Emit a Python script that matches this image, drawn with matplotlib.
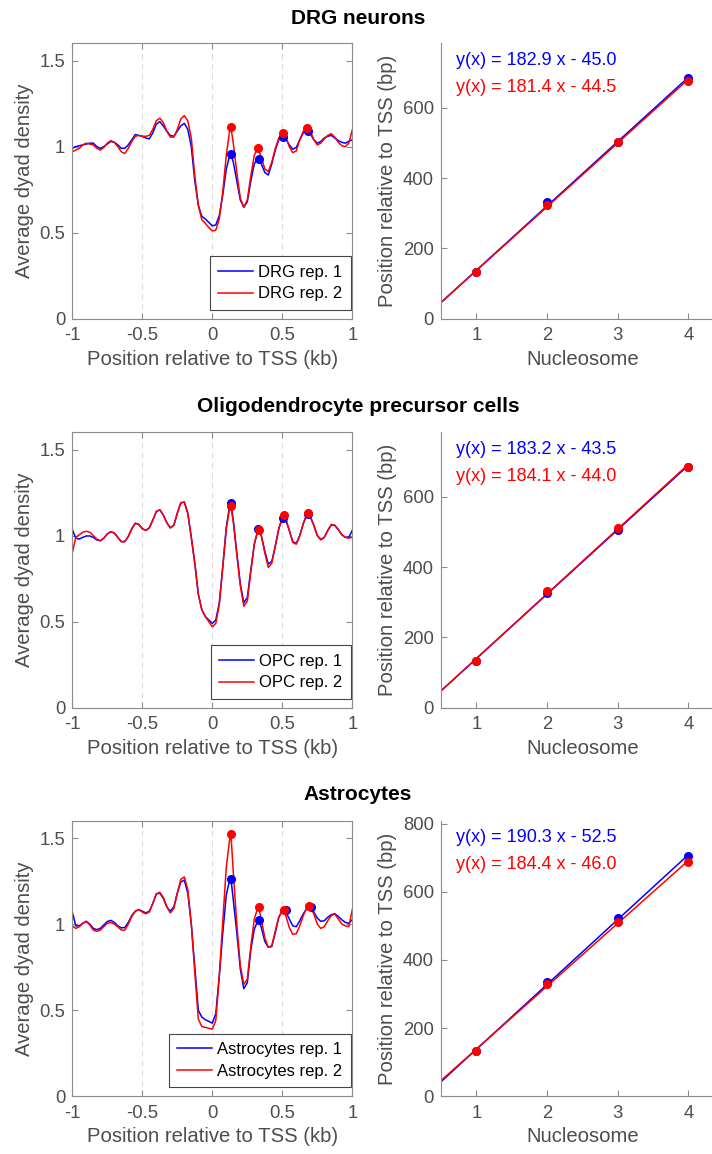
import numpy as np
import matplotlib.pyplot as plt

plt.rcParams['font.family'] = ['Liberation Sans', 'DejaVu Sans']
plt.rcParams['axes.unicode_minus'] = False

# position grid of the dyad profiles (kb)
position_kb = np.linspace(-1, 1, 81)
nucleosome = [1, 2, 3, 4]

# ---- DRG neurons ----
drg_rep1 = [0.99, 1.00, 1.005, 1.01, 1.015, 1.02, 1.02, 1.00, 0.99, 1.00,
            1.015, 1.03, 1.025, 1.01, 0.99, 0.99, 1.01, 1.04, 1.07, 1.065,
            1.06, 1.05, 1.045, 1.08, 1.13, 1.145, 1.12, 1.09, 1.065, 1.06,
            1.09, 1.12, 1.135, 1.10, 1.00, 0.80, 0.66, 0.595, 0.58, 0.56,
            0.54, 0.545, 0.60, 0.72, 0.87, 0.95, 0.91, 0.80, 0.69, 0.648,
            0.68, 0.80, 0.90, 0.93, 0.90, 0.85, 0.835, 0.90, 0.98, 1.04,
            1.058, 1.045, 1.01, 0.985, 0.995, 1.04, 1.08, 1.093, 1.075, 1.04,
            1.02, 1.03, 1.05, 1.06, 1.065, 1.05, 1.035, 1.025, 1.02, 1.03,
            1.04]
drg_rep2 = [0.97, 0.98, 0.99, 1.01, 1.02, 1.015, 1.01, 0.99, 0.98, 0.995,
            1.02, 1.035, 1.025, 1.00, 0.97, 0.96, 0.99, 1.03, 1.06, 1.065,
            1.06, 1.06, 1.065, 1.10, 1.15, 1.165, 1.14, 1.09, 1.055, 1.055,
            1.10, 1.16, 1.18, 1.15, 1.05, 0.83, 0.66, 0.575, 0.555, 0.53,
            0.51, 0.515, 0.58, 0.74, 0.95, 1.10, 1.02, 0.85, 0.70, 0.648,
            0.69, 0.83, 0.95, 0.99, 0.94, 0.87, 0.855, 0.91, 0.99, 1.05,
            1.077, 1.055, 1.00, 0.965, 0.975, 1.04, 1.09, 1.11, 1.09, 1.04,
            1.01, 1.02, 1.045, 1.065, 1.075, 1.055, 1.025, 1.005, 1.00, 1.02,
            1.097]
drg_peak_bp_rep1 = [132, 331, 502, 683]
drg_peak_bp_rep2 = [132, 324, 502, 676]
drg_peak_val_rep1 = [0.958, 0.929, 1.058, 1.093]
drg_peak_val_rep2 = [1.116, 0.991, 1.077, 1.110]
drg_fit_rep1 = (182.9, -45.0)
drg_fit_rep2 = (181.4, -44.5)

# ---- Oligodendrocyte precursor cells ----
opc_rep1 = [1.035, 0.985, 0.98, 0.99, 0.998, 0.998, 0.99, 0.975, 0.97, 0.985,
            1.01, 1.023, 1.015, 0.99, 0.965, 0.965, 0.995, 1.04, 1.072, 1.065,
            1.04, 1.03, 1.045, 1.09, 1.14, 1.15, 1.12, 1.075, 1.045, 1.06,
            1.13, 1.19, 1.195, 1.13, 0.99, 0.84, 0.66, 0.57, 0.53, 0.51,
            0.49, 0.51, 0.61, 0.82, 1.05, 1.18, 1.09, 0.90, 0.72, 0.61,
            0.64, 0.80, 0.95, 1.03, 1.00, 0.91, 0.835, 0.85, 0.94, 1.04,
            1.10, 1.09, 1.03, 0.965, 0.955, 1.00, 1.07, 1.12, 1.11, 1.06,
            1.00, 0.978, 0.99, 1.03, 1.062, 1.06, 1.035, 1.005, 0.99, 0.99,
            1.03]
opc_rep2 = [0.90, 0.99, 1.005, 1.02, 1.025, 1.02, 1.00, 0.98, 0.97, 0.985,
            1.01, 1.023, 1.015, 0.99, 0.965, 0.965, 0.995, 1.04, 1.072, 1.065,
            1.04, 1.03, 1.045, 1.09, 1.14, 1.15, 1.12, 1.075, 1.045, 1.06,
            1.13, 1.19, 1.195, 1.13, 0.99, 0.84, 0.66, 0.57, 0.53, 0.50,
            0.47, 0.49, 0.60, 0.82, 1.04, 1.165, 1.08, 0.89, 0.71, 0.59,
            0.62, 0.79, 0.95, 1.03, 1.00, 0.90, 0.815, 0.84, 0.94, 1.04,
            1.11, 1.10, 1.03, 0.96, 0.95, 1.00, 1.07, 1.125, 1.11, 1.06,
            1.00, 0.975, 0.99, 1.03, 1.065, 1.06, 1.035, 1.005, 0.99, 0.985,
            0.99]
opc_peak_bp_rep1 = [132, 327, 506, 684]
opc_peak_bp_rep2 = [132, 331, 510, 684]
opc_peak_val_rep1 = [1.192, 1.038, 1.105, 1.128]
opc_peak_val_rep2 = [1.173, 1.035, 1.120, 1.130]
opc_fit_rep1 = (183.2, -43.5)
opc_fit_rep2 = (184.1, -44.0)

# ---- Astrocytes ----
astro_rep1 = [1.07, 0.99, 0.99, 1.005, 1.016, 1.00, 0.975, 0.968, 0.975, 0.995,
              1.015, 1.022, 1.01, 0.99, 0.978, 0.98, 1.01, 1.05, 1.075, 1.084,
              1.075, 1.065, 1.075, 1.12, 1.175, 1.18, 1.15, 1.10, 1.075, 1.10,
              1.18, 1.245, 1.255, 1.18, 1.00, 0.75, 0.50, 0.46, 0.445, 0.435,
              0.425, 0.48, 0.70, 0.95, 1.17, 1.26, 1.14, 0.95, 0.74, 0.625,
              0.66, 0.85, 0.97, 1.02, 0.98, 0.90, 0.865, 0.87, 0.95, 1.04,
              1.08, 1.07, 1.03, 0.99, 0.985, 1.02, 1.06, 1.09, 1.10, 1.07,
              1.035, 1.016, 1.02, 1.04, 1.055, 1.06, 1.045, 1.025, 1.01, 1.005,
              1.026]
astro_rep2 = [0.99, 0.975, 0.985, 1.005, 1.016, 0.995, 0.965, 0.958, 0.965, 0.985,
              1.005, 1.01, 1.00, 0.985, 0.965, 0.965, 1.00, 1.045, 1.075, 1.084,
              1.07, 1.06, 1.07, 1.12, 1.175, 1.185, 1.155, 1.10, 1.065, 1.09,
              1.18, 1.26, 1.274, 1.20, 1.00, 0.72, 0.45, 0.405, 0.40, 0.395,
              0.39, 0.44, 0.70, 1.02, 1.33, 1.50, 1.30, 1.00, 0.76, 0.65,
              0.68, 0.87, 1.03, 1.095, 1.03, 0.92, 0.865, 0.875, 0.96, 1.04,
              1.078, 1.05, 0.98, 0.94, 0.945, 0.99, 1.05, 1.095, 1.10, 1.06,
              1.00, 0.975, 0.985, 1.02, 1.05, 1.058, 1.03, 1.00, 0.99, 0.985,
              1.084]
astro_peak_bp_rep1 = [133, 334, 524, 704]
astro_peak_bp_rep2 = [133, 330, 512, 688]
astro_peak_val_rep1 = [1.264, 1.022, 1.084, 1.100]
astro_peak_val_rep2 = [1.525, 1.098, 1.080, 1.103]
astro_fit_rep1 = (190.3, -52.5)
astro_fit_rep2 = (184.4, -46.0)

titles = ['DRG neurons', 'Oligodendrocyte precursor cells', 'Astrocytes']
legend_names = ['DRG', 'OPC', 'Astrocytes']

TXT = '#4d4d4d'
EDGE = '#8c8c8c'
BLUE = '#0000ff'
RED = '#ff0000'

rows = [
    (drg_rep1, drg_rep2, drg_peak_bp_rep1, drg_peak_bp_rep2, drg_peak_val_rep1,
     drg_peak_val_rep2, drg_fit_rep1, drg_fit_rep2, 783),
    (opc_rep1, opc_rep2, opc_peak_bp_rep1, opc_peak_bp_rep2, opc_peak_val_rep1,
     opc_peak_val_rep2, opc_fit_rep1, opc_fit_rep2, 783),
    (astro_rep1, astro_rep2, astro_peak_bp_rep1, astro_peak_bp_rep2,
     astro_peak_val_rep1, astro_peak_val_rep2, astro_fit_rep1, astro_fit_rep2, 808),
]

W, H = 712, 1154
fig = plt.figure(figsize=(W / 100, H / 100), dpi=100)

ax_tops = [43.3, 432.3, 820.8]
ax_h = 275.5
title_y = [18, 407, 795]


def style_axes(ax, box=True):
    for side in ['left', 'bottom', 'top', 'right']:
        ax.spines[side].set_color(EDGE)
        ax.spines[side].set_linewidth(0.8)
    if not box:
        ax.spines['top'].set_visible(False)
        ax.spines['right'].set_visible(False)
    ax.tick_params(direction='in', length=4, width=0.8, color=EDGE,
                   labelcolor=TXT, labelsize=13.3, top=box, right=box)
    ax.tick_params(axis='x', pad=6)
    ax.tick_params(axis='y', pad=5)


def merged(pos_kb, vals, peak_bp, peak_val):
    x = np.concatenate([pos_kb, np.array(peak_bp) / 1000.0])
    y = np.concatenate([vals, peak_val])
    order = np.argsort(x)
    return x[order], y[order]


for i, (r1, r2, pb1, pb2, pv1, pv2, f1, f2, ymax) in enumerate(rows):
    bottom = 1 - (ax_tops[i] + ax_h) / H

    # left: dyad density profile
    ax = fig.add_axes([72.3 / W, bottom, 280 / W, ax_h / H])
    for xv in [-0.5, 0, 0.5]:
        ax.axvline(xv, color='#dcdcdc', lw=0.8, ls=(0, (5, 4)), zorder=0)
    x1, y1 = merged(position_kb, r1, pb1, pv1)
    x2, y2 = merged(position_kb, r2, pb2, pv2)
    ax.plot(x1, y1, color=BLUE, lw=1.1, label=legend_names[i] + ' rep. 1')
    ax.plot(x2, y2, color=RED, lw=1.1, label=legend_names[i] + ' rep. 2')
    ax.plot(np.array(pb1) / 1000.0, pv1, 'o', color=BLUE, ms=5.5)
    ax.plot(np.array(pb2) / 1000.0, pv2, 'o', color=RED, ms=5.5)
    ax.set_xlim(-1, 1)
    ax.set_ylim(0, 1.6)
    ax.set_xticks([-1, -0.5, 0, 0.5, 1])
    ax.set_xticklabels(['-1', '-0.5', '0', '0.5', '1'])
    ax.set_yticks([0, 0.5, 1, 1.5])
    ax.set_yticklabels(['0', '0.5', '1', '1.5'])
    style_axes(ax, box=True)
    ax.set_xlabel('Position relative to TSS (kb)', fontsize=14.6, color=TXT)
    ax.set_ylabel('Average dyad density', fontsize=14.6, color=TXT)
    leg = ax.legend(loc='lower right', bbox_to_anchor=(0.995, 0.033),
                    borderaxespad=0, fontsize=12, frameon=True, fancybox=False,
                    framealpha=1, edgecolor='#444444', handlelength=2.1,
                    handletextpad=0.3, borderpad=0.5, labelspacing=0.4)
    leg.get_frame().set_linewidth(0.8)

    # right: nucleosome positions and linear fit
    axr = fig.add_axes([441 / W, bottom, 282.8 / W, ax_h / H])
    xf = np.array([0.5, 4.0])
    axr.plot(xf, f1[0] * xf + f1[1], color=BLUE, lw=1.1)
    axr.plot(xf, f2[0] * xf + f2[1], color=RED, lw=1.1)
    axr.plot(nucleosome, pb1, 'o', color=BLUE, ms=5.5)
    axr.plot(nucleosome, pb2, 'o', color=RED, ms=5.5)
    axr.set_xlim(0.5, 4.5)
    axr.set_ylim(0, ymax)
    axr.set_xticks(nucleosome)
    axr.set_yticks(np.arange(0, ymax, 200))
    style_axes(axr, box=False)
    axr.set_xlabel('Nucleosome', fontsize=14.6, color=TXT)
    axr.set_ylabel('Position relative to TSS (bp)', fontsize=14.6, color=TXT)
    axr.text(0.053, 0.938, 'y(x) = %.1f x - %.1f' % (f1[0], -f1[1]),
             transform=axr.transAxes, color=BLUE, fontsize=13, va='center')
    axr.text(0.053, 0.840, 'y(x) = %.1f x - %.1f' % (f2[0], -f2[1]),
             transform=axr.transAxes, color=RED, fontsize=13, va='center')

    fig.text(0.503, 1 - title_y[i] / H, titles[i], ha='center', va='center',
             fontsize=15, fontweight='bold', color='black')

fig.savefig('out.png', dpi=100)
